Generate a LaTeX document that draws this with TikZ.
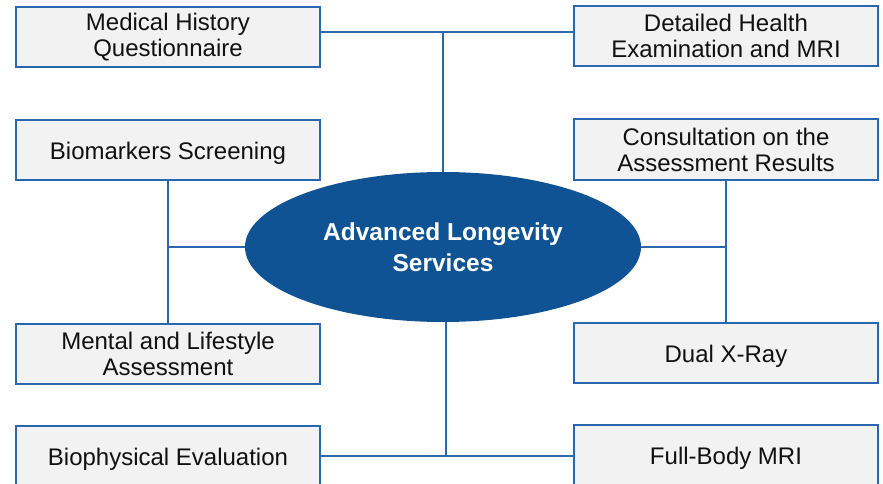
\documentclass[tikz,border=0pt]{standalone}
\usepackage{fontspec}
\setmainfont{Liberation Sans}
\usetikzlibrary{shapes.geometric}
\definecolor{boxblue}{HTML}{2A67AC}
\definecolor{elblue}{HTML}{0F5395}
\definecolor{boxfill}{HTML}{F2F2F2}
\definecolor{txt}{HTML}{111111}
\tikzset{
  svcbox/.style={draw=boxblue, line width=2pt, fill=boxfill, minimum width=304pt, minimum height=60pt,
    inner sep=0pt, align=center, text=txt, font=\fontsize{24}{26}\selectfont},
  oneline/.style={text height=19pt, text depth=0pt},
  hub/.style={ellipse, fill=elblue, minimum width=396pt, minimum height=150pt, inner sep=0pt,
    align=center, text=white, font=\fontsize{24.5}{31}\selectfont\bfseries},
  bus/.style={draw=boxblue, line width=2pt}
}
\begin{document}
\begin{tikzpicture}[x=1pt,y=-1pt]
\useasboundingbox (0,0) rectangle (883,484);
\clip (0,0) rectangle (883,484);
\node[hub] (hub) at (443,247) {Advanced Longevity\\Services};
\node[svcbox] (med) at (168,37) {Medical History\\Questionnaire};
\node[svcbox] (det) at (726,36) {Detailed Health\\Examination and MRI};
\node[svcbox, oneline] (bio) at (168,150) {Biomarkers Screening};
\node[svcbox] (con) at (726,149.5) {Consultation on the\\Assessment Results};
\node[svcbox] (men) at (168,354) {Mental and Lifestyle\\Assessment};
\node[svcbox, oneline] (dxa) at (726,353) {Dual X-Ray};
\node[svcbox, oneline] (phy) at (168,456) {Biophysical Evaluation};
\node[svcbox, oneline] (mri) at (726,455) {Full-Body MRI};
\coordinate (topbus) at (443,32);
\coordinate (botbus) at (446,456);
\draw[bus] (med.east |- topbus) -- (det.west |- topbus);
\draw[bus] (topbus) -- (hub.north);
\draw[bus] (bio.south) -- (men.north);
\draw[bus] (hub.west) -- (hub.west -| bio.south);
\draw[bus] (con.south) -- (dxa.north);
\draw[bus] (hub.east) -- (hub.east -| con.south);
\draw[bus] (phy.east |- botbus) -- (mri.west |- botbus);
\draw[bus] (botbus |- hub.south) -- (botbus);
\end{tikzpicture}
\end{document}
